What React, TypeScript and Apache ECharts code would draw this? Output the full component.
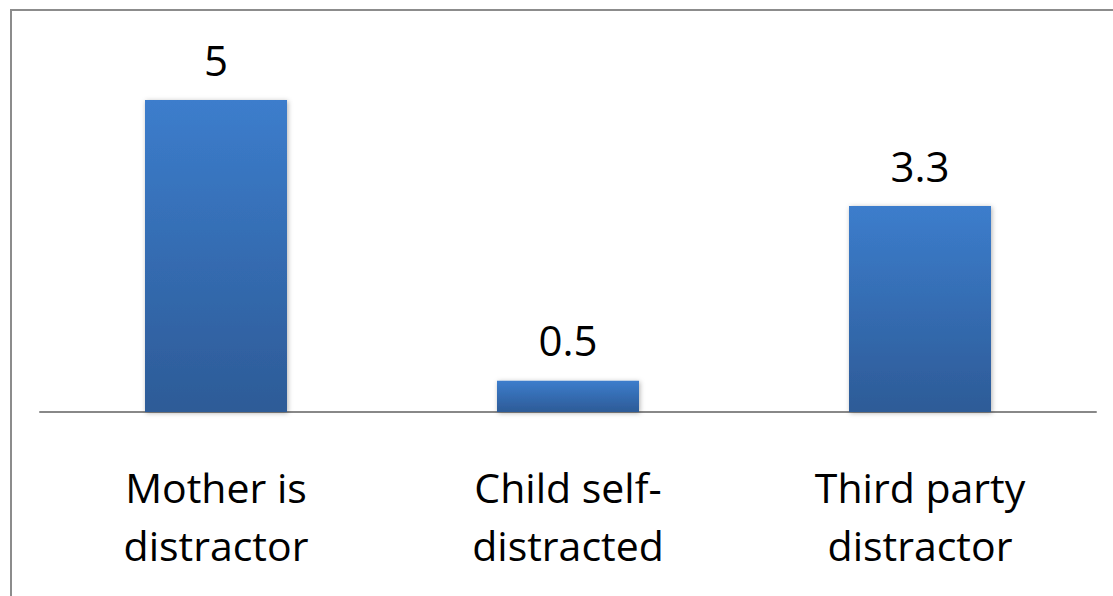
import React, { useEffect, useRef } from "react";
import * as echarts from "echarts";

const categories = ["Mother is\ndistractor", "Child self-\ndistracted", "Third party\ndistractor"];
const values = [5, 0.5, 3.3];
const valueLabels = ["5", "0.5", "3.3"];

export default function App() {
  const ref = useRef<HTMLDivElement>(null);
  useEffect(() => {
    const chart = echarts.init(ref.current!, undefined, { renderer: "svg" });
    chart.setOption({
      animation: false,
      backgroundColor: "#ffffff",
      graphic: [
        {
          type: "rect",
          shape: { x: 11, y: 10, width: 1200, height: 700 },
          style: { fill: "none", stroke: "#8c8c8c", lineWidth: 2 },
          z: 0,
        },
      ],
      grid: { left: 40, right: 17, top: 100, bottom: 184 },
      xAxis: {
        type: "category",
        data: categories,
        axisLine: { show: true, lineStyle: { color: "#888888", width: 2 } },
        axisTick: { show: false },
        axisLabel: {
          color: "#000000",
          fontFamily: "Open Sans",
          fontSize: 41,
          lineHeight: 58,
          margin: 46,
          interval: 0,
        },
      },
      yAxis: {
        type: "value",
        min: 0,
        max: 5,
        show: false,
        splitLine: { show: false },
      },
      series: [
        {
          type: "bar",
          data: values,
          barWidth: 142,
          itemStyle: {
            color: new echarts.graphic.LinearGradient(0, 0, 0, 1, [
              { offset: 0, color: "#3c7dcc" },
              { offset: 1, color: "#2d5b97" },
            ]),
            shadowBlur: 5,
            shadowColor: "rgba(0,0,0,0.3)",
            shadowOffsetX: 1,
            shadowOffsetY: 1,
          },
          label: {
            show: true,
            position: "top",
            distance: 20,
            color: "#000000",
            fontFamily: "Open Sans",
            fontSize: 42,
            formatter: (p: any) => valueLabels[p.dataIndex],
          },
        },
      ],
    });
    return () => chart.dispose();
  }, []);
  return <div ref={ref} style={{ width: 1113, height: 596, position: "absolute", left: 0, top: 0 }} />;
}
